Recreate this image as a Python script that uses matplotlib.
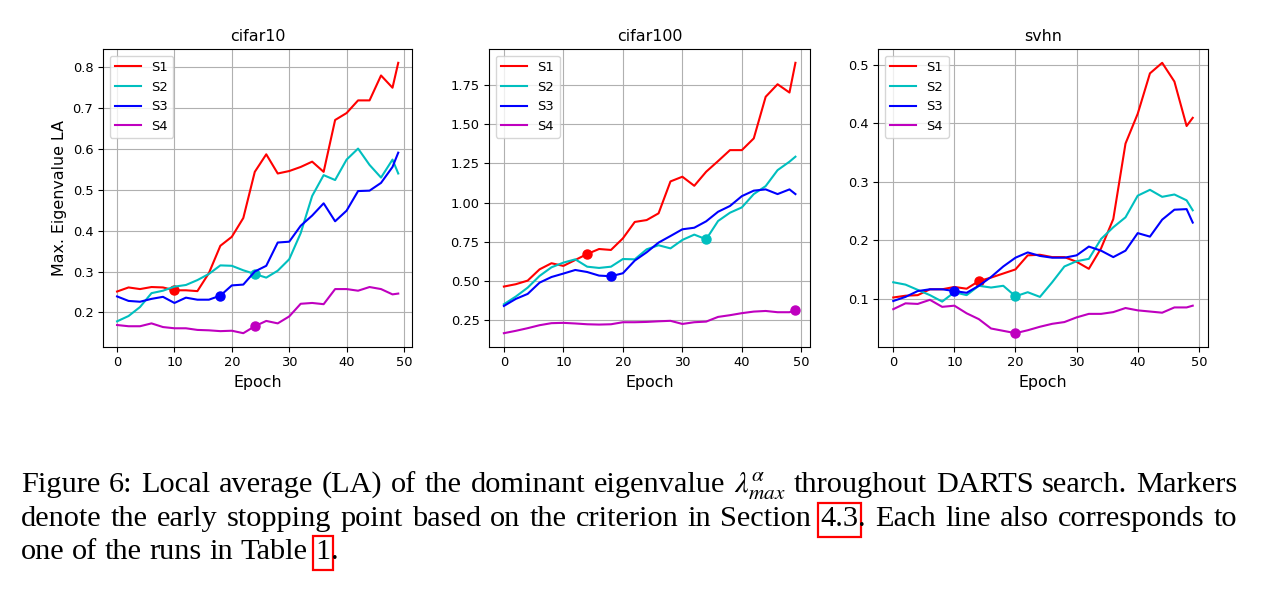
import matplotlib
matplotlib.use("Agg")
import matplotlib.pyplot as plt
from matplotlib.patches import Rectangle

W, H = 1278, 590

epochs = [0, 2, 4, 6, 8, 10, 12, 14, 16, 18, 20, 22, 24, 26, 28, 30, 32, 34, 36, 38, 40, 42, 44, 46, 48, 49]

# cifar10
c10_s1 = [0.251, 0.261, 0.257, 0.262, 0.261, 0.254, 0.254, 0.252, 0.296, 0.363, 0.385, 0.431, 0.544,
          0.587, 0.540, 0.546, 0.556, 0.569, 0.544, 0.671, 0.688, 0.719, 0.719, 0.780, 0.750, 0.811]
c10_s2 = [0.178, 0.191, 0.213, 0.247, 0.253, 0.263, 0.267, 0.279, 0.294, 0.315, 0.314, 0.303, 0.294,
          0.285, 0.302, 0.330, 0.394, 0.485, 0.536, 0.524, 0.574, 0.601, 0.561, 0.530, 0.574, 0.540]
c10_s3 = [0.239, 0.228, 0.226, 0.233, 0.238, 0.223, 0.236, 0.231, 0.231, 0.241, 0.266, 0.268, 0.300,
          0.314, 0.371, 0.373, 0.412, 0.437, 0.467, 0.423, 0.449, 0.497, 0.498, 0.517, 0.556, 0.591]
c10_s4 = [0.169, 0.166, 0.166, 0.173, 0.164, 0.161, 0.161, 0.157, 0.156, 0.154, 0.155, 0.149, 0.166,
          0.179, 0.173, 0.190, 0.221, 0.223, 0.220, 0.257, 0.257, 0.253, 0.262, 0.257, 0.244, 0.246]

# cifar100
c100_s1 = [0.463, 0.478, 0.501, 0.573, 0.612, 0.595, 0.633, 0.671, 0.703, 0.697, 0.771, 0.876, 0.888,
           0.931, 1.135, 1.165, 1.107, 1.197, 1.265, 1.335, 1.335, 1.410, 1.676, 1.756, 1.703, 1.893]
c100_s2 = [0.350, 0.399, 0.456, 0.531, 0.586, 0.616, 0.637, 0.590, 0.582, 0.590, 0.639, 0.637, 0.701,
           0.727, 0.707, 0.761, 0.795, 0.765, 0.882, 0.935, 0.969, 1.054, 1.105, 1.207, 1.261, 1.293]
c100_s3 = [0.339, 0.384, 0.416, 0.488, 0.524, 0.546, 0.569, 0.556, 0.533, 0.529, 0.548, 0.629, 0.682,
           0.744, 0.786, 0.829, 0.839, 0.880, 0.941, 0.978, 1.041, 1.076, 1.084, 1.054, 1.084, 1.054]
c100_s4 = [0.165, 0.180, 0.197, 0.216, 0.229, 0.231, 0.227, 0.222, 0.220, 0.222, 0.235, 0.235, 0.237,
           0.241, 0.244, 0.224, 0.235, 0.239, 0.269, 0.280, 0.293, 0.303, 0.307, 0.299, 0.299, 0.314]

# svhn
svhn_s1 = [0.102, 0.105, 0.106, 0.116, 0.116, 0.120, 0.117, 0.130, 0.136, 0.143, 0.150, 0.174, 0.175,
           0.171, 0.171, 0.163, 0.151, 0.186, 0.236, 0.365, 0.416, 0.485, 0.503, 0.471, 0.395, 0.409]
svhn_s2 = [0.128, 0.124, 0.115, 0.106, 0.095, 0.111, 0.106, 0.122, 0.119, 0.122, 0.104, 0.111, 0.103,
           0.128, 0.155, 0.164, 0.168, 0.202, 0.222, 0.239, 0.276, 0.286, 0.274, 0.278, 0.268, 0.251]
svhn_s3 = [0.096, 0.103, 0.113, 0.116, 0.116, 0.113, 0.110, 0.122, 0.137, 0.155, 0.170, 0.179, 0.173,
           0.170, 0.170, 0.174, 0.189, 0.182, 0.171, 0.182, 0.212, 0.206, 0.235, 0.252, 0.253, 0.230]
svhn_s4 = [0.082, 0.092, 0.091, 0.098, 0.086, 0.088, 0.075, 0.065, 0.049, 0.045, 0.041, 0.046, 0.052,
           0.057, 0.060, 0.068, 0.074, 0.074, 0.077, 0.084, 0.080, 0.078, 0.076, 0.085, 0.085, 0.088]

# early stopping epochs (S1..S4) per dataset
c10_stop = [10, 24, 18, 24]
c100_stop = [14, 34, 18, 49]
svhn_stop = [14, 20, 10, 20]

labels = ["S1", "S2", "S3", "S4"]
colors = ["r", "c", "b", "m"]

datasets = [
    ("cifar10", [c10_s1, c10_s2, c10_s3, c10_s4], c10_stop),
    ("cifar100", [c100_s1, c100_s2, c100_s3, c100_s4], c100_stop),
    ("svhn", [svhn_s1, svhn_s2, svhn_s3, svhn_s4], svhn_stop),
]

# axes boxes in pixels: left, right
ax_px = [(103, 412.3), (489.3, 810), (878.3, 1207.7)]
ax_top, ax_bot = 49.3, 346.7

fig = plt.figure(figsize=(W / 100, H / 100), dpi=100)

for (name, series, stops), (l, r) in zip(datasets, ax_px):
    ax = fig.add_axes([l / W, 1 - ax_bot / H, (r - l) / W, (ax_bot - ax_top) / H])
    for s, lab, col, st in zip(series, labels, colors, stops):
        ax.plot(epochs, s, color=col, label=lab, lw=1.5)
        ax.plot([st], [s[epochs.index(st)]], 'o', color=col, ms=6.5)
    ax.grid(True)
    ax.set_title(name, fontsize=11.4)
    ax.set_xlabel("Epoch", fontsize=11.4)
    ax.set_xticks([0, 10, 20, 30, 40, 50])
    ax.tick_params(labelsize=9.4)
    ax.legend(loc="upper left", fontsize=9.4)
    if name == "cifar10":
        ax.set_ylabel("Max. Eigenvalue LA", fontsize=11.4)

# caption, justified word by word
plt.rcParams['mathtext.fontset'] = 'stix'
cap_font = dict(family="Liberation Serif", size=21.9)
renderer = fig.canvas.get_renderer()

cap_lines = [
    ("Figure 6: Local average (LA) of the dominant eigenvalue $\\lambda^{\\alpha}_{max}$ throughout DARTS search. Markers", 492, True),
    ("denote the early stopping point based on the criterion in Section [4.3]. Each line also corresponds to", 525.7, True),
    ("one of the runs in Table [1].", 559, False),
]
cap_left, cap_right = 21, 1237


def pieces_of(word):
    # split a word into (text, boxed) parts, [..] means red link box
    out = []
    while word:
        if word.startswith("["):
            j = word.index("]")
            out.append((word[1:j], True))
            word = word[j + 1:]
        else:
            j = word.find("[")
            if j < 0:
                out.append((word, False))
                word = ""
            else:
                out.append((word[:j], False))
                word = word[j:]
    return out


def width_of(s):
    t = fig.text(0, 0, s, **cap_font)
    w = t.get_window_extent(renderer).width
    t.remove()
    return w


space_w = width_of("a b") - width_of("ab")

for text, y, justify in cap_lines:
    # keep the math token as one word
    words = text.split(" ")
    merged = []
    for w in words:
        if merged and merged[-1].count("$") % 2 == 1:
            merged[-1] += " " + w
        else:
            merged.append(w)
    words = [pieces_of(w) for w in merged]
    widths = [[width_of(p) for p, _ in w] for w in words]
    total = sum(sum(ws) for ws in widths)
    gap = (cap_right - cap_left - total) / (len(words) - 1) if justify else space_w
    x = cap_left
    for w, ws in zip(words, widths):
        for (p, boxed), pw in zip(w, ws):
            fig.text(x / W, 1 - y / H, p, ha="left", va="baseline", **cap_font)
            if boxed:
                fig.add_artist(Rectangle(((x - 2.5) / W, 1 - (y + 11) / H), (pw + 5) / W, 34 / H,
                                         fill=False, edgecolor="red", lw=1.6, transform=fig.transFigure))
            x += pw
        x += gap

fig.savefig("out.png", dpi=100)
